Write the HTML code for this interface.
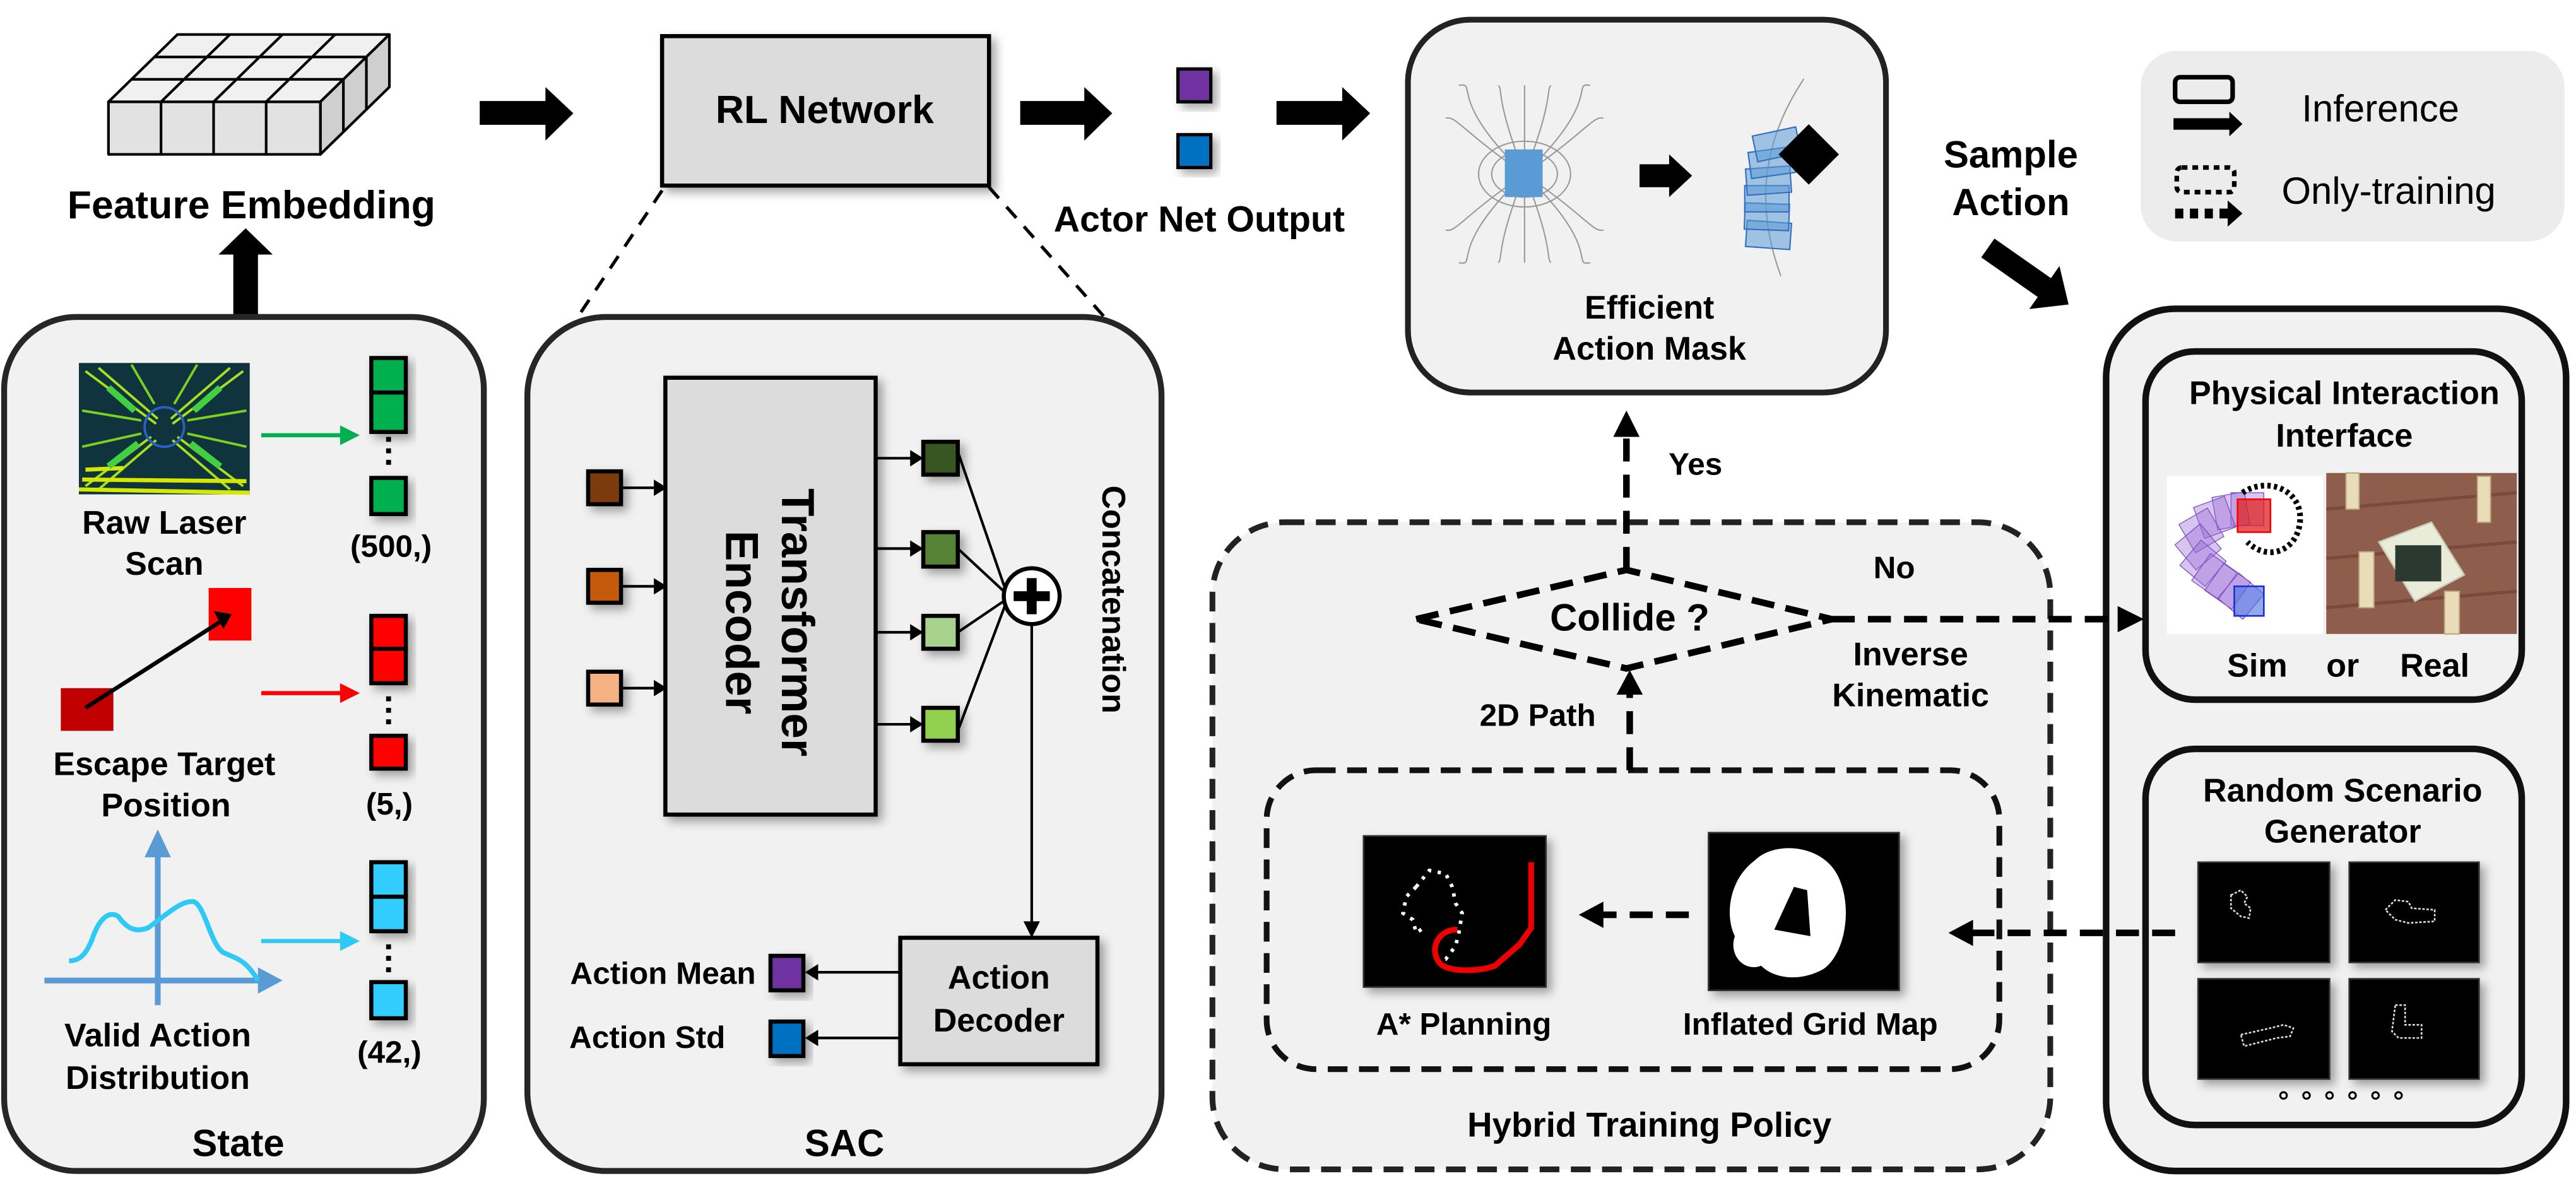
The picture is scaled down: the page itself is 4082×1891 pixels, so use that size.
<!DOCTYPE html>
<html><head><meta charset="utf-8"><style>html,body{margin:0;padding:0;background:#fff}svg{display:block}text{font-family:"Liberation Sans",Arial,sans-serif;font-weight:bold;fill:#000}</style></head>
<body>
<svg width="4082" height="1891" viewBox="0 0 1568 726.4" xmlns="http://www.w3.org/2000/svg">
<defs>
<filter id="sh" x="-30%" y="-30%" width="160%" height="160%"><feDropShadow dx="3" dy="3" stdDeviation="3" flood-opacity="0.35"/></filter>
</defs>

<g stroke="#000" stroke-width="1.6" stroke-linejoin="round">
<polygon points="66,62 108,21 237,21 195,62" fill="#f0f0f0"/>
<polygon points="195,62 237,21 237,53 195,94" fill="#cfcfcf"/>
<rect x="66" y="62" width="129" height="32" fill="#e2e2e2"/>
<line x1="98" y1="62" x2="98" y2="94"/><line x1="130" y1="62" x2="130" y2="94"/><line x1="162" y1="62" x2="162" y2="94"/>
<line x1="98" y1="62" x2="140" y2="21"/><line x1="130" y1="62" x2="172" y2="21"/><line x1="162" y1="62" x2="204" y2="21"/>
<line x1="80" y1="48.3" x2="209" y2="48.3"/><line x1="94" y1="34.7" x2="223" y2="34.7"/>
<line x1="209" y1="48.3" x2="209" y2="80.3"/><line x1="223" y1="34.7" x2="223" y2="66.7"/>
</g>
<text x="153" y="133" font-size="24" text-anchor="middle">Feature Embedding</text>
<polygon points="142,194 157,194 157,155 166,155 149.5,139 133,155 142,155" fill="#000"/>

<polygon points="292,61.5 332,61.5 332,53 349,69 332,85.6 332,76 292,76" fill="#000"/>
<polygon points="621,61.5 660,61.5 660,53 677,69 660,85.6 660,76 621,76" fill="#000"/>
<polygon points="777,61.5 817,61.5 817,53 834,69 817,85.6 817,76 777,76" fill="#000"/>

<rect x="403" y="22" width="199" height="91" fill="#dcdcdc" stroke="#000" stroke-width="2.5" filter="url(#sh)"/>
<text x="502" y="75" font-size="24" text-anchor="middle">RL Network</text>
<rect x="717" y="42" width="20" height="20" fill="#7030a0" stroke="#000" stroke-width="2" filter="url(#sh)"/>
<rect x="717" y="82" width="20" height="20" fill="#0070c0" stroke="#000" stroke-width="2" filter="url(#sh)"/>
<text x="730" y="141" font-size="22" text-anchor="middle">Actor Net Output</text>

<line x1="403" y1="116" x2="337" y2="215" stroke="#000" stroke-width="2" stroke-dasharray="9 7"/>
<line x1="602" y1="114" x2="682" y2="204" stroke="#000" stroke-width="2" stroke-dasharray="9 7"/>

<rect x="857" y="12" width="291" height="227" rx="38" fill="#f1f1f1" stroke="#222" stroke-width="3.5"/>
<g fill="none" stroke="#999" stroke-width="0.8">
<ellipse cx="928" cy="106" rx="20" ry="14"/><ellipse cx="928" cy="106" rx="28" ry="20"/>
<path d="M928 106 C 880 60, 900 50, 888 52 M928 106 C 976 60, 956 50, 968 52 M928 106 C 880 152, 900 162, 888 160 M928 106 C 976 152, 956 162, 968 160"/>
<path d="M928 106 C 890 80, 886 70, 880 72 M928 106 C 966 80, 970 70, 976 72 M928 106 C 890 132, 886 142, 880 140 M928 106 C 966 132, 970 142, 976 140"/>
<path d="M928 106 C 910 60, 915 55, 912 52 M928 106 C 946 60, 941 55, 944 52 M928 106 C 910 152, 915 157, 912 160 M928 106 C 946 152, 941 157, 944 160"/>
<path d="M928 106 L928 52 M928 106 L928 160"/>
<path d="M1098 48 C 1070 90, 1070 130, 1084 168"/>
</g>
<rect x="916" y="91" width="23" height="29" fill="#5b9bd5"/>
<polygon points="998,100 1016,100 1016,94 1030,107 1016,120 1016,114 998,114" fill="#000"/>
<g fill="#5b9bd5" fill-opacity="0.55" stroke="#2e6fc0" stroke-width="0.8">
<rect x="1063" y="135" width="27" height="16" transform="rotate(4 1076 143)"/>
<rect x="1062" y="124" width="27" height="16" transform="rotate(2 1076 132)"/>
<rect x="1062" y="113" width="27" height="16"/>
<rect x="1063" y="102" width="27" height="16" transform="rotate(-4 1076 110)"/>
<rect x="1065" y="91" width="27" height="16" transform="rotate(-8 1078 99)"/>
<rect x="1068" y="80" width="27" height="16" transform="rotate(-12 1081 88)"/>
</g>
<rect x="1088" y="81" width="26" height="26" fill="#000" transform="rotate(45 1101 94)"/>
<text x="1004" y="194" font-size="20" text-anchor="middle">Efficient</text>
<text x="1004" y="219" font-size="20" text-anchor="middle">Action Mask</text>

<rect x="1303" y="31" width="258" height="116" rx="22" fill="#ececec"/>
<rect x="1324" y="47" width="35" height="15" rx="3" fill="none" stroke="#000" stroke-width="2.8"/>
<polygon points="1323,72 1357,72 1357,68 1365,75.5 1357,83 1357,79 1323,79" fill="#000"/>
<rect x="1325" y="102" width="35" height="15" rx="3" fill="none" stroke="#000" stroke-width="2.8" stroke-dasharray="3.5 3"/>
<line x1="1324" y1="130" x2="1356" y2="130" stroke="#000" stroke-width="6" stroke-dasharray="5 4"/>
<polygon points="1356,122 1365,130 1356,138" fill="#000"/>
<text x="1449" y="74" font-size="23" text-anchor="middle" style="font-weight:normal">Inference</text>
<text x="1454" y="124" font-size="23" text-anchor="middle" style="font-weight:normal">Only-training</text>

<text x="1224" y="102" font-size="23" text-anchor="middle">Sample</text>
<text x="1224" y="131" font-size="23" text-anchor="middle">Action</text>
<g transform="translate(1210 151) rotate(35)"><polygon points="0,-7 42,-7 42,-16 60,0 42,16 42,7 0,7" fill="#000"/></g>

<rect x="1282" y="188" width="280" height="525" rx="42" fill="#f1f1f1" stroke="#111" stroke-width="4"/>
<rect x="1306" y="214" width="229" height="212" rx="30" fill="#f1f1f1" stroke="#111" stroke-width="4"/>
<text x="1427" y="246" font-size="20" text-anchor="middle">Physical Interaction</text>
<text x="1427" y="272" font-size="20" text-anchor="middle">Interface</text>
<rect x="1319" y="290" width="95" height="96" fill="#fff"/>
<g fill="#9b6fd6" fill-opacity="0.4" stroke="#7a4fc0" stroke-width="0.5">
<rect x="1358" y="300" width="20" height="20"/><rect x="1348" y="301" width="20" height="20" transform="rotate(-10 1358 311)"/><rect x="1338" y="305" width="20" height="20" transform="rotate(-20 1348 315)"/>
<rect x="1330" y="313" width="20" height="20" transform="rotate(-30 1340 323)"/><rect x="1328" y="323" width="20" height="20" transform="rotate(-40 1338 333)"/><rect x="1331" y="333" width="20" height="20" transform="rotate(-50 1341 343)"/>
<rect x="1338" y="341" width="20" height="20" transform="rotate(-55 1348 351)"/><rect x="1346" y="347" width="20" height="20" transform="rotate(-55 1356 357)"/><rect x="1354" y="353" width="20" height="20" transform="rotate(-50 1364 363)"/>
</g>
<rect x="1360" y="357" width="18" height="18" fill="#4a6fe0" fill-opacity="0.6" stroke="#1a2fd0" stroke-width="1"/>
<rect x="1362" y="304" width="20" height="20" fill="#e02020" fill-opacity="0.75" stroke="#f00" stroke-width="1"/>
<path d="M1365 300 C 1380 290, 1402 298, 1400 318 C 1398 336, 1380 342, 1368 330" fill="none" stroke="#000" stroke-width="3.5" stroke-dasharray="2 2"/>
<rect x="1416" y="288" width="116" height="98" fill="#8e5d4c"/>
<path d="M1416 310 L1532 300 M1416 340 L1532 330 M1416 370 L1532 360" stroke="#7a4a3c" stroke-width="2"/>
<polygon points="1448,330 1480,318 1500,350 1470,366" fill="#e8ecd8" stroke="#c8ccb8"/>
<rect x="1458" y="332" width="28" height="22" fill="#2a3a30"/>
<g fill="#e9dcb8" stroke="#bca880" stroke-width="0.8">
<rect x="1428" y="288" width="8" height="22"/><rect x="1508" y="290" width="8" height="28"/><rect x="1436" y="336" width="9" height="34"/><rect x="1488" y="360" width="9" height="26"/>
</g>
<text x="1374" y="412" font-size="20" text-anchor="middle">Sim</text>
<text x="1426" y="412" font-size="20" text-anchor="middle">or</text>
<text x="1482" y="412" font-size="20" text-anchor="middle">Real</text>

<rect x="1306" y="456" width="229" height="229" rx="30" fill="#f1f1f1" stroke="#111" stroke-width="4"/>
<text x="1426" y="488" font-size="20" text-anchor="middle">Random Scenario</text>
<text x="1426" y="513" font-size="20" text-anchor="middle">Generator</text>
<g filter="url(#sh)" fill="#000" stroke="#333" stroke-width="1">
<rect x="1338" y="525" width="80" height="61"/><rect x="1430" y="525" width="79" height="61"/>
<rect x="1338" y="596" width="80" height="61"/><rect x="1430" y="596" width="79" height="61"/>
</g>
<g fill="none" stroke="#ddd" stroke-width="1" stroke-dasharray="1.5 1">
<path d="M1358 545 l6 -3 l4 4 l-2 4 l4 3 l-1 6 l-5 -1 l-6 -5 z"/>
<path d="M1452 554 l6 -6 l8 1 l2 4 l14 1 l0 7 l-16 1 l-8 -2 z"/>
<path d="M1364 630 l18 -4 l8 -2 l6 2 l-2 5 l-8 1 l-20 5 z"/>
<path d="M1458 612 l6 0 l0 12 l10 0 l0 8 l-14 0 l-4 -4 z"/>
</g>
<g fill="none" stroke="#000" stroke-width="1.2">
<circle cx="1390" cy="667" r="2"/><circle cx="1404" cy="667" r="2"/><circle cx="1418" cy="667" r="2"/><circle cx="1432" cy="667" r="2"/><circle cx="1446" cy="667" r="2"/><circle cx="1460" cy="667" r="2"/>
</g>

<rect x="738" y="318" width="510" height="394" rx="44" fill="#f1f1f1" stroke="#222" stroke-width="3.5" stroke-dasharray="12 7"/>
<rect x="771" y="469" width="446" height="182" rx="30" fill="#f1f1f1" stroke="#111" stroke-width="3.5" stroke-dasharray="12 7"/>
<line x1="990" y1="347" x2="990" y2="262" stroke="#000" stroke-width="4" stroke-dasharray="14 8"/>
<polygon points="982,266 990,250 998,266" fill="#000"/>
<text x="1032" y="289" font-size="19" text-anchor="middle">Yes</text>
<polygon points="862,377 990,347 1115,377 990,407" fill="none" stroke="#000" stroke-width="4" stroke-dasharray="14 7"/>
<text x="992" y="384" font-size="23" text-anchor="middle">Collide ?</text>
<text x="1153" y="352" font-size="19" text-anchor="middle">No</text>
<line x1="1115" y1="377" x2="1292" y2="377" stroke="#000" stroke-width="4" stroke-dasharray="14 8"/>
<polygon points="1289,369 1305,377 1289,385" fill="#000"/>
<text x="1163" y="405" font-size="20" text-anchor="middle">Inverse</text>
<text x="1163" y="430" font-size="20" text-anchor="middle">Kinematic</text>
<text x="936" y="442" font-size="19" text-anchor="middle">2D Path</text>
<line x1="992" y1="469" x2="992" y2="420" stroke="#000" stroke-width="4" stroke-dasharray="14 8"/>
<polygon points="984,423 992,408 1000,423" fill="#000"/>
<rect x="830" y="509" width="111" height="92" fill="#000" stroke="#333" filter="url(#sh)"/>
<path d="M862 540 l-6 6 l-2 10 l6 4 l2 8 l6 -4 M862 540 l8 -10 l10 2 l4 8 l2 10 l4 6 l-2 12 l-2 8 l-6 8 l-10 2" fill="none" stroke="#fff" stroke-width="2.2" stroke-dasharray="2 4"/>
<path d="M887 566 C 875 566, 870 578, 876 586 C 880 592, 900 592, 910 588 L 925 575 L 932 565 L 932 525" fill="none" stroke="#e00" stroke-width="3.5"/>
<rect x="1040" y="507" width="116" height="96" fill="#000" stroke="#333" filter="url(#sh)"/>
<path d="M1068 524 C 1080 512, 1108 514, 1118 532 C 1128 550, 1124 580, 1110 590 C 1096 598, 1080 596, 1072 588 C 1062 592, 1052 582, 1056 570 C 1050 558, 1052 536, 1068 524 Z M1092 540 L1080 566 L1102 570 L1100 542 Z" fill="#fff" fill-rule="evenodd"/>
<text x="891" y="630" font-size="19" text-anchor="middle">A* Planning</text>
<text x="1102" y="630" font-size="19" text-anchor="middle">Inflated Grid Map</text>
<line x1="1028" y1="557" x2="973" y2="557" stroke="#000" stroke-width="4" stroke-dasharray="14 8"/>
<polygon points="976,549 961,557 976,565" fill="#000"/>
<line x1="1324" y1="568" x2="1198" y2="568" stroke="#000" stroke-width="4" stroke-dasharray="14 8"/>
<polygon points="1201,560 1186,568 1201,576" fill="#000"/>
<text x="1004" y="692" font-size="21" text-anchor="middle">Hybrid Training Policy</text>

<rect x="2.5" y="193" width="292" height="520" rx="44" fill="#f1f1f1" stroke="#262626" stroke-width="3.6"/>
<rect x="48" y="221" width="104" height="80" fill="#10343e"/>
<g fill="none" stroke-width="1.5">
<path d="M52 226 L95 258 M60 224 L96 255 M148 226 L105 258 M140 224 L104 255 M52 296 L92 266 M60 298 L95 268 M148 296 L108 266 M140 298 L105 268" stroke="#a8e020"/>
<path d="M50 250 L86 256 M50 272 L86 264 M150 250 L114 256 M150 272 L114 264 M80 222 L94 246 M120 222 L106 246" stroke="#7cd020"/>
<path d="M48 298 L152 300 M50 292 L150 293 M52 286 L75 285" stroke="#d4e800" stroke-width="2.5"/>
<circle cx="100" cy="260" r="12" stroke="#2a60c0"/>
<path d="M66 236 L82 250 M134 236 L118 250 M66 284 L84 270 M134 284 L116 270" stroke="#40d040" stroke-width="4"/>
</g>
<text x="100" y="325" font-size="20" text-anchor="middle">Raw Laser</text>
<text x="100" y="350" font-size="20" text-anchor="middle">Scan</text>
<line x1="159" y1="265" x2="210" y2="265" stroke="#00b050" stroke-width="2.5"/><polygon points="207,259 219,265 207,271" fill="#00b050"/>
<g stroke="#000" stroke-width="2.5" filter="url(#sh)">
<rect x="226" y="218" width="21" height="21" fill="#00b050"/><rect x="226" y="239" width="21" height="24" fill="#00b050"/><rect x="226" y="291" width="21" height="22" fill="#00b050"/>
</g>
<g fill="#000"><rect x="235" y="266" width="3" height="3"/><rect x="235" y="273" width="3" height="3"/><rect x="235" y="280" width="3" height="3"/></g>
<text x="238" y="339" font-size="19" text-anchor="middle">(500,)</text>

<rect x="127" y="358" width="26" height="32" fill="#ff0000"/>
<rect x="37" y="419" width="32" height="26" fill="#c00000"/>
<line x1="52" y1="431" x2="135" y2="378" stroke="#000" stroke-width="2.5"/><polygon points="130,372 141,374 136,383" fill="#000"/>
<text x="100" y="472" font-size="20" text-anchor="middle">Escape Target</text>
<text x="101" y="497" font-size="20" text-anchor="middle">Position</text>
<line x1="159" y1="422" x2="210" y2="422" stroke="#ff0000" stroke-width="2.5"/><polygon points="207,416 219,422 207,428" fill="#ff0000"/>
<g stroke="#000" stroke-width="2.5" filter="url(#sh)">
<rect x="226" y="375" width="21" height="20" fill="#ff0000"/><rect x="226" y="395" width="21" height="21" fill="#ff0000"/><rect x="226" y="448" width="21" height="20" fill="#ff0000"/>
</g>
<g fill="#000"><rect x="235" y="424" width="3" height="3"/><rect x="235" y="431" width="3" height="3"/><rect x="235" y="438" width="3" height="3"/></g>
<text x="237" y="496" font-size="19" text-anchor="middle">(5,)</text>

<line x1="96" y1="612" x2="96" y2="518" stroke="#5b9bd5" stroke-width="3.5"/><polygon points="88,522 96,505 104,522" fill="#5b9bd5"/>
<line x1="27" y1="597" x2="160" y2="597" stroke="#5b9bd5" stroke-width="3.5"/><polygon points="157,589 172,597 157,605" fill="#5b9bd5"/>
<path d="M42 585 C 48 585, 52 582, 56 572 C 60 560, 66 554, 72 558 C 77 565, 82 568, 90 565 C 100 558, 110 548, 118 549 C 125 552, 128 575, 136 580 C 145 584, 150 585, 157 597" fill="none" stroke="#2ec9f5" stroke-width="3"/>
<text x="96" y="637" font-size="20" text-anchor="middle">Valid Action</text>
<text x="96" y="663" font-size="20" text-anchor="middle">Distribution</text>
<line x1="159" y1="573" x2="210" y2="573" stroke="#2ec9f5" stroke-width="2.5"/><polygon points="207,567 219,573 207,579" fill="#2ec9f5"/>
<g stroke="#000" stroke-width="2.5" filter="url(#sh)">
<rect x="226" y="525" width="21" height="21" fill="#33ccff"/><rect x="226" y="546" width="21" height="21" fill="#33ccff"/><rect x="226" y="598" width="21" height="22" fill="#33ccff"/>
</g>
<g fill="#000"><rect x="235" y="575" width="3" height="3"/><rect x="235" y="582" width="3" height="3"/><rect x="235" y="589" width="3" height="3"/></g>
<text x="237" y="647" font-size="19" text-anchor="middle">(42,)</text>
<text x="145" y="704" font-size="23" text-anchor="middle">State</text>

<rect x="321" y="193" width="386" height="520" rx="48" fill="#f1f1f1" stroke="#262626" stroke-width="3.6"/>
<rect x="405" y="230" width="128" height="266" fill="#dcdcdc" stroke="#000" stroke-width="2.5" filter="url(#sh)"/>
<text transform="translate(476 379) rotate(90)" font-size="28" text-anchor="middle">Transformer</text>
<text transform="translate(442 379) rotate(90)" font-size="28" text-anchor="middle">Encoder</text>
<g stroke="#000" stroke-width="2.5" filter="url(#sh)">
<rect x="358" y="287" width="20" height="20" fill="#7b3a0e"/>
<rect x="358" y="347" width="20" height="20" fill="#c55a11"/>
<rect x="358" y="409" width="20" height="20" fill="#f4b183"/>
<rect x="562" y="269" width="21" height="20" fill="#375623"/>
<rect x="562" y="324" width="21" height="21" fill="#548235"/>
<rect x="562" y="375" width="21" height="20" fill="#a9d18e"/>
<rect x="562" y="431" width="21" height="20" fill="#92d050"/>
</g>
<g stroke="#000" stroke-width="1.6">
<line x1="378" y1="297" x2="400" y2="297"/><line x1="378" y1="357" x2="400" y2="357"/><line x1="378" y1="419" x2="400" y2="419"/>
<line x1="533" y1="279" x2="556" y2="279"/><line x1="533" y1="334" x2="556" y2="334"/><line x1="533" y1="385" x2="556" y2="385"/><line x1="533" y1="441" x2="556" y2="441"/>
<line x1="583" y1="275" x2="612" y2="359"/><line x1="583" y1="334" x2="611" y2="360"/><line x1="583" y1="385" x2="611" y2="366"/><line x1="583" y1="445" x2="612" y2="368"/>
<line x1="628" y1="381" x2="628" y2="562"/>
<line x1="548" y1="592" x2="496" y2="592"/><line x1="548" y1="632" x2="496" y2="632"/>
</g>
<g fill="#000">
<polygon points="398,292 406,297 398,302"/><polygon points="398,352 406,357 398,362"/><polygon points="398,414 406,419 398,424"/>
<polygon points="554,274 562,279 554,284"/><polygon points="554,329 562,334 554,339"/><polygon points="554,380 562,385 554,390"/><polygon points="554,436 562,441 554,446"/>
<polygon points="623,561 628,571 633,561"/>
<polygon points="498,587 490,592 498,597"/><polygon points="498,627 490,632 498,637"/>
</g>
<circle cx="628" cy="363" r="17" fill="#fff" stroke="#000" stroke-width="2.5"/>
<rect x="625" y="352" width="6" height="22" fill="#000"/><rect x="617" y="360" width="22" height="6" fill="#000"/>
<text transform="translate(671 365) rotate(90)" font-size="20" text-anchor="middle">Concatenation</text>
<rect x="548" y="571" width="120" height="77" fill="#dcdcdc" stroke="#000" stroke-width="2.5" filter="url(#sh)"/>
<text x="608" y="602" font-size="20" text-anchor="middle">Action</text>
<text x="608" y="628" font-size="20" text-anchor="middle">Decoder</text>
<rect x="469" y="582" width="20" height="21" fill="#7030a0" stroke="#000" stroke-width="2.5" filter="url(#sh)"/>
<rect x="469" y="622" width="20" height="21" fill="#0070c0" stroke="#000" stroke-width="2.5" filter="url(#sh)"/>
<text x="460" y="599" font-size="19" text-anchor="end">Action Mean</text>
<text x="394" y="638" font-size="19" text-anchor="middle">Action Std</text>
<text x="514" y="704" font-size="23" text-anchor="middle">SAC</text>
</svg>
</body></html>
